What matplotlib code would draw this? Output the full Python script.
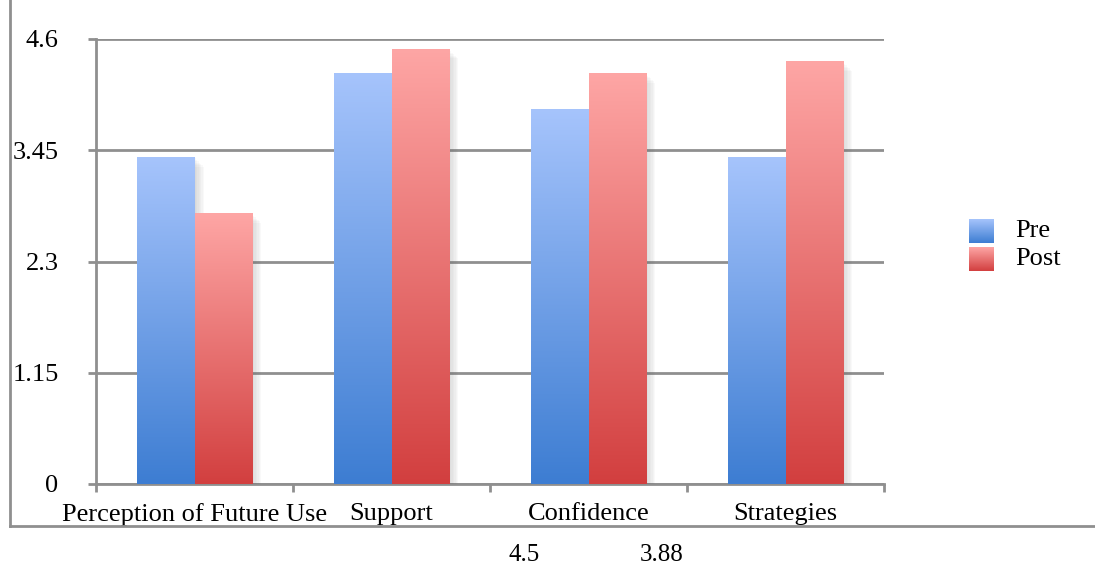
import numpy as np
import matplotlib
matplotlib.use("Agg")
import matplotlib.pyplot as plt
from matplotlib.colors import LinearSegmentedColormap
from matplotlib.lines import Line2D
import matplotlib.patheffects as pe

categories = ["Perception of Future Use", "Support", "Confidence", "Strategies"]
pre_values = [3.38, 4.25, 3.88, 3.38]
post_values = [2.80, 4.50, 4.25, 4.37]
series_names = ["Pre", "Post"]
y_ticks = [0, 1.15, 2.3, 3.45, 4.6]
y_tick_labels = ["0", "1.15", "2.3", "3.45", "4.6"]
footnote_values = ["4.5", "3.88"]

plt.rcParams["font.family"] = ["Liberation Serif", "DejaVu Serif"]
FS = 19
GRID = "#8f8f8f"

pre_cmap = LinearSegmentedColormap.from_list("pre", ["#3d7dd2", "#a6c4fc"])
post_cmap = LinearSegmentedColormap.from_list("post", ["#d23f3f", "#fea6a5"])

fig = plt.figure(figsize=(10.95, 5.66), dpi=100)
ax = fig.add_axes([96 / 1095, 1 - 484 / 566, (884 - 96) / 1095, (484 - 39) / 566])

x = np.arange(len(categories))
width = 0.29
grad = np.linspace(0, 1, 256).reshape(-1, 1)

# soft drop shadow built from stacked offset copies
shadow = [pe.SimplePatchShadow(offset=(d, -d), shadow_rgbFace="#606060", alpha=0.035)
          for d in range(1, 8)] + [pe.Normal()]

def gradient_bars(xpos, values, cmap):
    bars = ax.bar(xpos, values, width, color=cmap(0.5), zorder=3, linewidth=0)
    for b in bars:
        b.set_path_effects(shadow)
        x0, w, h = b.get_x(), b.get_width(), b.get_height()
        im = ax.imshow(grad, cmap=cmap, extent=[x0, x0 + w, 0, h], origin="lower",
                       aspect="auto", interpolation="bicubic", zorder=4)
        im.set_clip_path(b)
    return bars

gradient_bars(x - width / 2, pre_values, pre_cmap)
gradient_bars(x + width / 2, post_values, post_cmap)

ax.set_xlim(-0.5, len(categories) - 0.5)
ax.set_ylim(0, 4.6)

# y axis with gridlines
ax.set_yticks(y_ticks)
ax.set_yticklabels(y_tick_labels, fontsize=FS)
ax.yaxis.grid(True, color=GRID, linewidth=2, zorder=0)
ax.set_axisbelow(True)
ax.tick_params(axis="y", length=6, width=2, color=GRID, pad=21)

# category boundaries as major ticks, labels at centres as minor ticks
ax.set_xticks(np.arange(-0.5, len(categories), 1.0))
ax.set_xticklabels([])
ax.set_xticks(x, minor=True)
ax.set_xticklabels(categories, minor=True, fontsize=FS)
ax.tick_params(axis="x", which="major", length=6, width=2, color=GRID)
ax.tick_params(axis="x", which="minor", length=0, pad=14)

for side in ["top", "right"]:
    ax.spines[side].set_visible(False)
for side in ["left", "bottom"]:
    ax.spines[side].set_color(GRID)
    ax.spines[side].set_linewidth(2)

# legend
for i, (name, cmap) in enumerate(zip(series_names, [pre_cmap, post_cmap])):
    ytop = 1 - (219 + i * 28) / 566
    lax = fig.add_axes([969 / 1095, ytop - 24 / 566, 25 / 1095, 24 / 566])
    lax.imshow(grad, cmap=cmap, origin="lower", aspect="auto", interpolation="bicubic")
    lax.axis("off")
    fig.text(1015 / 1095, ytop - 12 / 566, name, fontsize=FS, va="center", ha="left")

# outer frame lines
fig.add_artist(Line2D([10 / 1095, 10 / 1095], [1.0, 1 - 526 / 566], color=GRID, lw=2))
fig.add_artist(Line2D([10 / 1095, 1.0], [1 - 526 / 566, 1 - 526 / 566], color=GRID, lw=2))

# values printed below the frame
fig.text(524 / 1095, 1 - 555 / 566, footnote_values[0], fontsize=FS - 1, ha="center", va="center")
fig.text(662 / 1095, 1 - 555 / 566, footnote_values[1], fontsize=FS - 1, ha="center", va="center")

fig.savefig("out.png", dpi=100, facecolor="white")
